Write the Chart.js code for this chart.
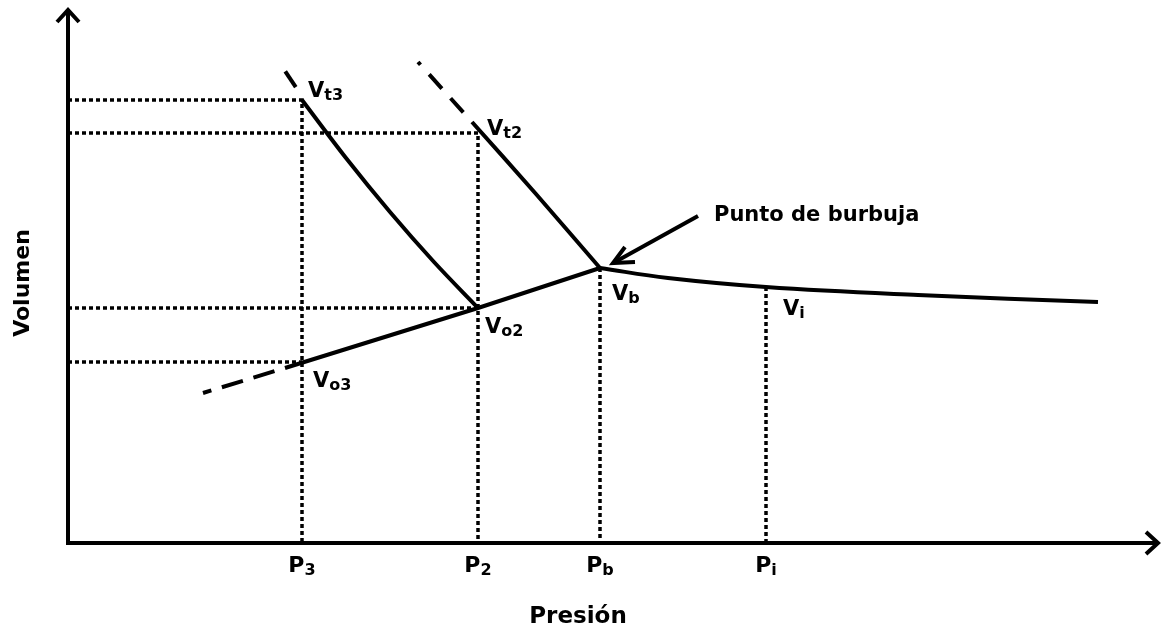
<!DOCTYPE html>
<html>
<head>
<meta charset="utf-8">
<title>Volumen vs Presión</title>
<script src="https://cdn.jsdelivr.net/npm/chart.js@4.4.1/dist/chart.umd.min.js"></script>
<style>
    html, body { margin: 0; padding: 0; background: #fff; }
    #wrap { width: 1164px; height: 630px; }
</style>
</head>
<body>
<div id="wrap"><canvas id="pvChart" width="1164" height="630"></canvas></div>
<script>
// rango de los ejes (unidades arbitrarias, diagrama esquemático)
const xMax = 1092;
const yMax = 535;

// marcas del eje de presión
const pressureTicks = [234, 410, 532, 698];
const pressureSubs = ["3", "2", "b", "i"];

// puntos característicos
const Vt3 = { x: 234, y: 443 };
const Vt2 = { x: 410, y: 410 };
const Vo2 = { x: 410, y: 235 };
const Vo3 = { x: 234, y: 181 };
const Vb = { x: 532, y: 275 };
const Vi = { x: 698, y: 256 };

// curvas de volumen total (por debajo de Pb)
const curveVt3 = [{ x: 234, y: 443 }, { x: 278, y: 385 }, { x: 322, y: 331 }, { x: 366, y: 281 }, { x: 410, y: 235 }];
const curveVt2 = [{ x: 404, y: 421 }, { x: 468, y: 349 }, { x: 532, y: 275 }];
// volumen de aceite
const lineOil = [{ x: 217, y: 175 }, { x: 410, y: 235 }, { x: 532, y: 275 }];
// por encima del punto de burbuja
const curveAbove = [{ x: 532, y: 275 }, { x: 600, y: 265 }, { x: 698, y: 256 },
    { x: 850, y: 248 }, { x: 1030, y: 241 }];

// extrapolaciones (trazos)
const dashVt3 = [{ x: 235, y: 445 }, { x: 217, y: 472 }];
const dashVt2 = [{ x: 404, y: 421 }, { x: 350, y: 481 }];
const dashOil = [{ x: 217, y: 175 }, { x: 135, y: 150 }];

// líneas guía punteadas
const guideVt3 = [{ x: 0, y: Vt3.y }, Vt3, { x: Vt3.x, y: 0 }];
const guideVt2 = [{ x: 0, y: Vt2.y }, Vt2, { x: Vt2.x, y: 0 }];
const guideVo2 = [{ x: 0, y: Vo2.y }, Vo2];
const guideVo3 = [{ x: 0, y: Vo3.y }, Vo3];
const guideVb = [Vb, { x: Vb.x, y: 0 }];
const guideVi = [Vi, { x: Vi.x, y: 0 }];

// flecha "Punto de burbuja"
const arrowShaft = [{ x: 630, y: 327 }, { x: 547, y: 281 }];
const arrowHead = [{ x: 557, y: 296 }, { x: 545, y: 280 }, { x: 567, y: 281 }];

const pointLabels = [
    { main: "V", sub: "t3", at: Vt3, dx: 6, dy: -3 },
    { main: "V", sub: "t2", at: Vt2, dx: 9, dy: 2 },
    { main: "V", sub: "o2", at: Vo2, dx: 7, dy: 25 },
    { main: "V", sub: "o3", at: Vo3, dx: 11, dy: 25 },
    { main: "V", sub: "b", at: Vb, dx: 12, dy: 32 },
    { main: "V", sub: "i", at: Vi, dx: 17, dy: 28 },
];

const FONT = "'DejaVu Sans', 'Open Sans', sans-serif";

function lineSet(points, extra) {
    return Object.assign({
        data: points,
        showLine: true,
        borderColor: "#000",
        borderWidth: 4,
        pointRadius: 0,
        fill: false,
        tension: 0,
        clip: false,
        borderCapStyle: "butt",
        borderJoinStyle: "miter",
    }, extra || {});
}

function dotted(points) {
    return lineSet(points, { borderWidth: 3.5, borderDash: [4, 3] });
}

function drawSubText(ctx, main, sub, x, y, mainSize, subSize, align) {
    ctx.font = "bold " + mainSize + "px " + FONT;
    const w1 = ctx.measureText(main).width;
    ctx.font = "bold " + subSize + "px " + FONT;
    const w2 = ctx.measureText(sub).width;
    let left = x;
    if (align === "center") left = x - (w1 + w2) / 2;
    ctx.textAlign = "left";
    ctx.textBaseline = "alphabetic";
    ctx.font = "bold " + mainSize + "px " + FONT;
    ctx.fillText(main, left, y);
    ctx.font = "bold " + subSize + "px " + FONT;
    ctx.fillText(sub, left + w1, y + 3);
}

const annotations = {
    id: "annotations",
    afterDatasetsDraw(chart) {
        const ctx = chart.ctx;
        const xs = chart.scales.x;
        const ys = chart.scales.y;
        const area = chart.chartArea;
        const ox = xs.getPixelForValue(0);
        const oy = ys.getPixelForValue(0);

        ctx.save();
        ctx.strokeStyle = "#000";
        ctx.fillStyle = "#000";
        ctx.lineWidth = 4;
        ctx.lineCap = "butt";
        ctx.lineJoin = "miter";

        // ejes con flecha
        ctx.beginPath();
        ctx.moveTo(ox, area.top + 2);
        ctx.lineTo(ox, oy);
        ctx.lineTo(area.right - 2, oy);
        ctx.stroke();
        ctx.beginPath();
        ctx.moveTo(ox - 11, area.top + 14);
        ctx.lineTo(ox, area.top + 2);
        ctx.lineTo(ox + 11, area.top + 14);
        ctx.stroke();
        ctx.beginPath();
        ctx.moveTo(area.right - 14, oy - 11);
        ctx.lineTo(area.right - 2, oy);
        ctx.lineTo(area.right - 14, oy + 11);
        ctx.stroke();

        // etiquetas de los puntos
        pointLabels.forEach(function (l) {
            const px = xs.getPixelForValue(l.at.x) + l.dx;
            const py = ys.getPixelForValue(l.at.y) + l.dy;
            drawSubText(ctx, l.main, l.sub, px, py, 21, 16, "left");
        });

        // marcas del eje x
        pressureTicks.forEach(function (v, i) {
            drawSubText(ctx, "P", pressureSubs[i], xs.getPixelForValue(v), oy + 29, 22, 16, "center");
        });

        // texto de la flecha
        ctx.font = "bold 21px " + FONT;
        ctx.textAlign = "left";
        ctx.fillText("Punto de burbuja", xs.getPixelForValue(630) + 16, ys.getPixelForValue(327) + 5);

        // títulos de los ejes
        ctx.font = "bold 23px " + FONT;
        ctx.textAlign = "center";
        ctx.fillText("Presión", 578, 623);

        ctx.translate(29, 283);
        ctx.rotate(-Math.PI / 2);
        ctx.font = "bold 22px " + FONT;
        ctx.textAlign = "center";
        ctx.fillText("Volumen", 0, 0);
        ctx.restore();
    },
};

new Chart(document.getElementById("pvChart"), {
    type: "scatter",
    data: {
        datasets: [
            dotted(guideVt3),
            dotted(guideVt2),
            dotted(guideVo2),
            dotted(guideVo3),
            dotted(guideVb),
            dotted(guideVi),
            lineSet(curveVt3, { cubicInterpolationMode: "monotone" }),
            lineSet(curveVt2, { tension: 0.3 }),
            lineSet(lineOil),
            lineSet(curveAbove, { tension: 0.4 }),
            lineSet(dashVt3, { borderDash: [19, 13], borderDashOffset: 19 }),
            lineSet(dashVt2, { borderDash: [19, 13], borderDashOffset: 19 }),
            lineSet(dashOil, { borderDash: [22, 11], borderDashOffset: 22 }),
            lineSet(arrowShaft),
            lineSet(arrowHead),
        ],
    },
    options: {
        responsive: false,
        animation: false,
        devicePixelRatio: 1,
        layout: { padding: { left: 68, top: 8, right: 4, bottom: 87 } },
        plugins: {
            legend: { display: false },
            tooltip: { enabled: false },
        },
        scales: {
            x: { type: "linear", min: 0, max: xMax, display: false },
            y: { type: "linear", min: 0, max: yMax, display: false },
        },
    },
    plugins: [annotations],
});
</script>
</body>
</html>
